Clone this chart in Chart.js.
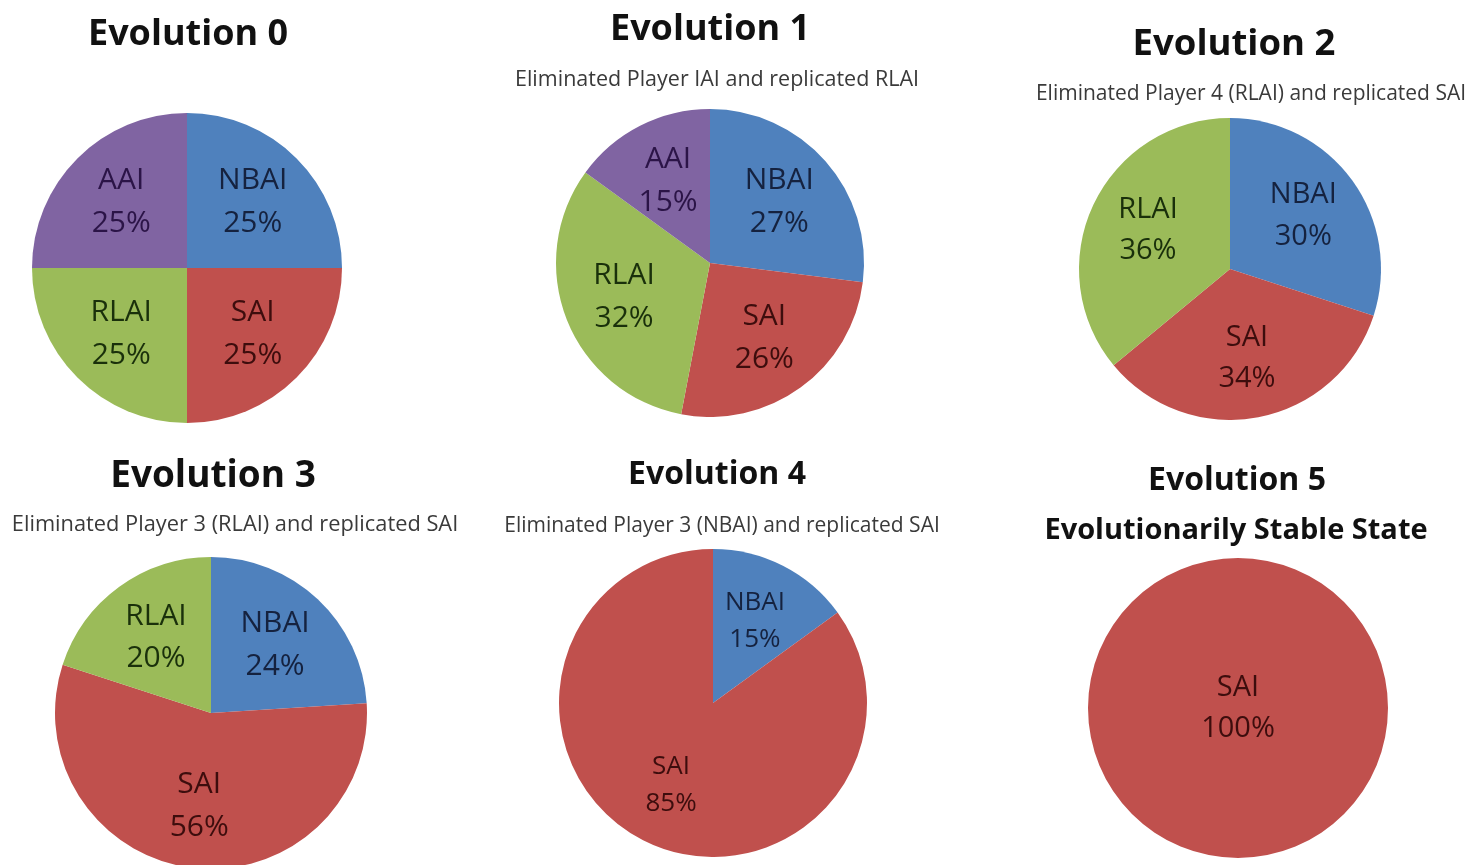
<!DOCTYPE html>
<html><head><meta charset="utf-8">
<script src="https://cdn.jsdelivr.net/npm/chart.js@4.4.1/dist/chart.umd.min.js"></script>
<style>
html,body{margin:0;padding:0;background:#fff;width:1469px;height:865px;overflow:hidden;position:relative;}
.cell{position:absolute;}
.cell canvas{display:block;}
</style></head><body>
<script>
// ---- data ----
const evo0Labels = ['NBAI','SAI','RLAI','AAI'];
const evo0Values = [25,25,25,25];
const evo1Labels = ['NBAI','SAI','RLAI','AAI'];
const evo1Values = [27,26,32,15];
const evo2Labels = ['NBAI','SAI','RLAI'];
const evo2Values = [30,34,36];
const evo3Labels = ['NBAI','SAI','RLAI'];
const evo3Values = [24,56,20];
const evo4Labels = ['NBAI','SAI'];
const evo4Values = [15,85];
const evo5Labels = ['SAI'];
const evo5Values = [100];
const chartTitles = ['Evolution 0','Evolution 1','Evolution 2','Evolution 3','Evolution 4','Evolution 5'];
const chartSubtitles = [null,
  'Eliminated Player IAI and replicated RLAI',
  'Eliminated Player 4 (RLAI) and replicated SAI',
  'Eliminated Player 3 (RLAI) and replicated SAI',
  'Eliminated Player 3 (NBAI) and replicated SAI',
  'Evolutionarily Stable State'];

// ---- styles ----
const FAMILY = "'Open Sans', 'Noto Sans', sans-serif";
const sliceColors = {NBAI:'#4F81BD', SAI:'#C0504D', RLAI:'#9BBB59', AAI:'#8064A2'};
const textColors  = {NBAI:'#15223f', SAI:'#3d0d0d', RLAI:'#1a300b', AAI:'#2b1447'};

// layout (pixel positions of each panel)
const panels = [
 {labels:evo0Labels, values:evo0Values, cx:187, cy:268, r:155, top:0,   tx:188,  ty:35,  tf:36,   sx:0,    sy:0,   sf:21,   lf:30},
 {labels:evo1Labels, values:evo1Values, cx:710, cy:263, r:154, top:0,   tx:710,  ty:30,  tf:36,   sx:717,  sy:80,  sf:21.5, lf:30},
 {labels:evo2Labels, values:evo2Values, cx:1230,cy:269, r:151, top:0,   tx:1234, ty:45,  tf:36.5, sx:1251, sy:94,  sf:21,   lf:29},
 {labels:evo3Labels, values:evo3Values, cx:211, cy:713, r:156, top:440, tx:213,  ty:476, tf:37,   sx:235,  sy:525, sf:21.8, lf:30},
 {labels:evo4Labels, values:evo4Values, cx:713, cy:703, r:154, top:440, tx:717,  ty:475, tf:32,   sx:722,  sy:526, sf:21,   lf:26},
 {labels:evo5Labels, values:evo5Values, cx:1238,cy:708, r:150, top:440, tx:1237, ty:481, tf:32,   sx:1236, sy:531, sf:29,   lf:29, subBold:true},
];

const shiftTitles = {
  id:'shiftTitles',
  afterLayout(chart, args, opts){
    chart.boxes.forEach(b=>{
      if(!b.options || b.options.text === undefined) return;
      const dx = (b === chart.titleBlock) ? opts.title : opts.subtitle;
      b.left += dx; b.right += dx;
    });
  }
};

const sliceLabels = {
  id:'sliceLabels',
  afterDatasetsDraw(chart, args, opts){
    const ctx = chart.ctx;
    const meta = chart.getDatasetMeta(0);
    const values = chart.data.datasets[0].data;
    const total = values.reduce((a,b)=>a+b,0);
    meta.data.forEach((arc,i)=>{
      const p = arc.getProps(['x','y','startAngle','endAngle','outerRadius'], true);
      const span = p.endAngle - p.startAngle;
      const mid = (p.startAngle + p.endAngle)/2;
      const d = span >= 2*Math.PI - 1e-6 ? 0 : p.outerRadius*opts.dist;
      const x = p.x + Math.cos(mid)*d, y = p.y + Math.sin(mid)*d;
      const label = chart.data.labels[i];
      const lh = opts.size*1.42;
      ctx.save();
      ctx.font = `${opts.size}px ${FAMILY}`;
      ctx.fillStyle = textColors[label];
      ctx.textAlign = 'center';
      ctx.textBaseline = 'middle';
      ctx.fillText(label, x, y - lh/2);
      ctx.fillText(Math.round(values[i]/total*100) + '%', x, y + lh/2);
      ctx.restore();
    });
  }
};

const W = 500;
panels.forEach((P, idx)=>{
  const div = document.createElement('div');
  div.className = 'cell';
  div.style.left = (P.cx - W/2) + 'px';
  div.style.top = P.top + 'px';
  const canvas = document.createElement('canvas');
  const H = Math.round(P.cy + P.r - P.top);
  canvas.width = W; canvas.height = H;
  canvas.style.width = W + 'px'; canvas.style.height = H + 'px';
  div.appendChild(canvas);
  document.body.appendChild(div);

  const tLH = P.tf * 1.2;
  const sLH = P.sf * 1.2;
  const pieTop = P.cy - P.r - P.top;
  const tTop = P.ty - P.top - tLH/2;
  const sub = chartSubtitles[idx];
  let titlePad, subPad;
  if (sub){
    titlePad = {top:tTop, bottom:0};
    const sTop = (P.sy - P.top - sLH/2) - (tTop + tLH);
    subPad = {top:sTop, bottom: pieTop - (P.sy - P.top + sLH/2)};
  } else {
    titlePad = {top:tTop, bottom: pieTop - (tTop + tLH)};
    subPad = {top:0,bottom:0};
  }

  new Chart(canvas.getContext('2d'), {
    type:'pie',
    data:{
      labels:P.labels,
      datasets:[{data:P.values, backgroundColor:P.labels.map(l=>sliceColors[l]), borderWidth:0, radius:P.r}]
    },
    options:{
      responsive:false, animation:false, devicePixelRatio:1,
      layout:{padding:0},
      events:[],
      plugins:{
        legend:{display:false},
        tooltip:{enabled:false},
        title:{display:true, text:chartTitles[idx], color:'#111111',
               font:{family:FAMILY, size:P.tf, weight:'bold', lineHeight:1.2}, padding:titlePad},
        subtitle:{display:!!sub, text:sub || '', color: P.subBold ? '#111111' : '#3a3a3a',
               font:{family:FAMILY, size:P.sf, weight: P.subBold ? 'bold' : 'normal', lineHeight:1.2}, padding:subPad},
        shiftTitles:{title:P.tx - P.cx, subtitle:(sub ? P.sx - P.cx : 0)},
        sliceLabels:{size:P.lf, dist:0.6}
      }
    },
    plugins:[shiftTitles, sliceLabels]
  });
});
</script>
</body></html>
